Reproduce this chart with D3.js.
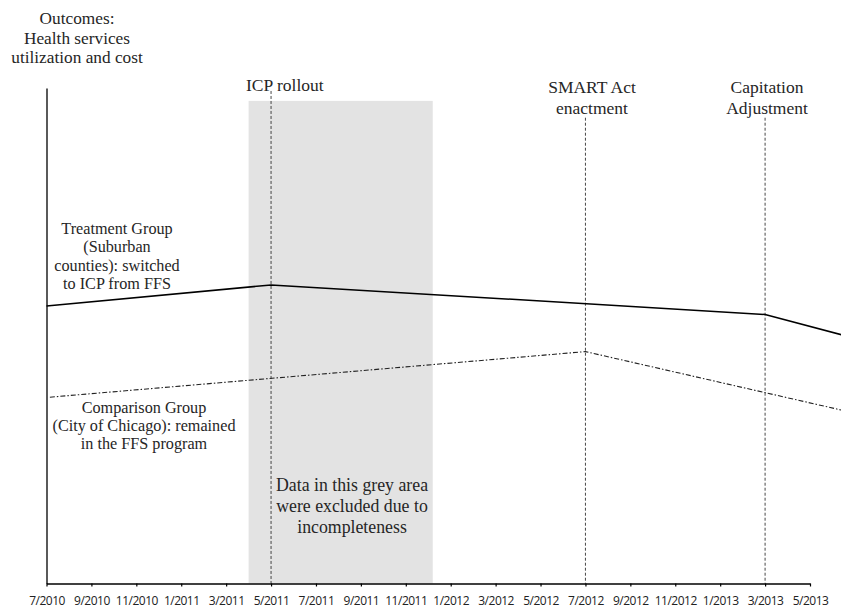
<!DOCTYPE html>
<html><head><meta charset="utf-8">
<script src="https://cdn.jsdelivr.net/npm/d3@7"></script>
<style>body{margin:0;background:#fff}svg{display:block}</style>
</head><body><svg id="chart" width="841" height="609"></svg>
<script>
// ---- data ----
const tickLabels = ["7/2010","9/2010","11/2010","1/2011","3/2011","5/2011","7/2011","9/2011","11/2011","1/2012","3/2012","5/2012","7/2012","9/2012","11/2012","1/2013","3/2013","5/2013"];
const treatmentDates = ["7/2010","5/2011","3/2013","6.4/2013"];
const treatmentValues = [56.0, 60.25, 54.3, 50.2];
const comparisonDates = ["7.15/2010","7/2012","6.4/2013"];
const comparisonValues = [37.6, 46.8, 35.0];
const excludedPeriod = ["4/2011","12.2/2011"];
const excludedTop = 97.4;
const eventDates = ["5/2011","7/2012","3/2013"];
const eventTops = [99.4, 94, 94];
const eventLabels = [["ICP rollout"],["SMART Act","enactment"],["Capitation","Adjustment"]];
const yTitle = ["Outcomes:","Health services","utilization and cost"];
const treatmentLabel = ["Treatment Group","(Suburban","counties): switched","to ICP from FFS"];
const comparisonLabel = ["Comparison Group","(City of Chicago): remained","in the FFS program"];
const greyLabel = ["Data in this grey area","were excluded due to","incompleteness"];

// month index relative to 7/2010
function mi(s){const [m,y]=s.split("/");return (+y-2010)*12 + (+m) - 7;}

const svg = d3.select("#chart");
const x = d3.scaleLinear().domain([0,34]).range([46.5,810]);
const y = d3.scaleLinear().domain([0,100]).range([583.5,88]);
const serif = "'Liberation Serif','Times New Roman',serif";

// grey excluded area
svg.append("rect")
  .attr("x", x(mi(excludedPeriod[0]))).attr("y", y(excludedTop))
  .attr("width", x(mi(excludedPeriod[1]))-x(mi(excludedPeriod[0])))
  .attr("height", y(0)-y(excludedTop))
  .attr("fill","#e3e3e3");

// event lines
eventDates.forEach((d,i)=>{
  svg.append("line")
    .attr("x1",x(mi(d))).attr("x2",x(mi(d)))
    .attr("y1",y(eventTops[i])).attr("y2",y(0))
    .attr("stroke","#333").attr("stroke-width",0.9)
    .attr("stroke-dasharray","3,2");
});

// axes
const xAxis = d3.axisBottom(x)
  .tickValues(tickLabels.map(mi))
  .tickFormat((d,i)=>tickLabels[i])
  .tickSize(3).tickSizeOuter(0).tickPadding(10);
const gx = svg.append("g").attr("transform",`translate(0,${y(0)})`).call(xAxis);
gx.select(".domain").attr("stroke","#000").attr("stroke-width",1.3);
gx.selectAll(".tick line").attr("stroke","#000").attr("stroke-width",1.2);
gx.selectAll("text").attr("font-family","'Open Sans','Liberation Sans',sans-serif")
  .attr("font-size","12px").attr("fill","#222").attr("letter-spacing","-0.5px");

const yAxis = d3.axisLeft(y).tickValues([]).tickSizeOuter(0);
const gy = svg.append("g").attr("transform",`translate(${x(0)},0)`).call(yAxis);
gy.select(".domain").attr("stroke","#000").attr("stroke-width",1.3);

// lines
const line = d3.line().x(d=>x(d[0])).y(d=>y(d[1]));
svg.append("path")
  .datum(treatmentDates.map((d,i)=>[mi(d),treatmentValues[i]]))
  .attr("d",line).attr("fill","none").attr("stroke","#000").attr("stroke-width",1.5);
svg.append("path")
  .datum(comparisonDates.map((d,i)=>[mi(d),comparisonValues[i]]))
  .attr("d",line).attr("fill","none").attr("stroke","#222").attr("stroke-width",1.1)
  .attr("stroke-dasharray","5,2,1.5,2");

// text helper
function block(lines, cx, y0, lh, size, anchor){
  const t = svg.append("text").attr("font-family",serif).attr("font-size",size)
    .attr("fill","#262626").attr("text-anchor",anchor||"middle");
  lines.forEach((s,i)=>t.append("tspan").attr("x",cx).attr("y",y0+i*lh).text(s));
}
block(yTitle, 77, 24, 19.5, "17.3px");
block(eventLabels[0], 246, 91, 21, "17.5px", "start");
block(eventLabels[1], 592, 93, 21, "17.5px");
block(eventLabels[2], 767, 93, 21, "17.5px");
block(treatmentLabel, 117, 234, 18.4, "16.2px");
block(comparisonLabel, 144, 413, 18.2, "16.2px");
block(greyLabel, 352, 491, 21.2, "17.8px");
</script></body></html>
